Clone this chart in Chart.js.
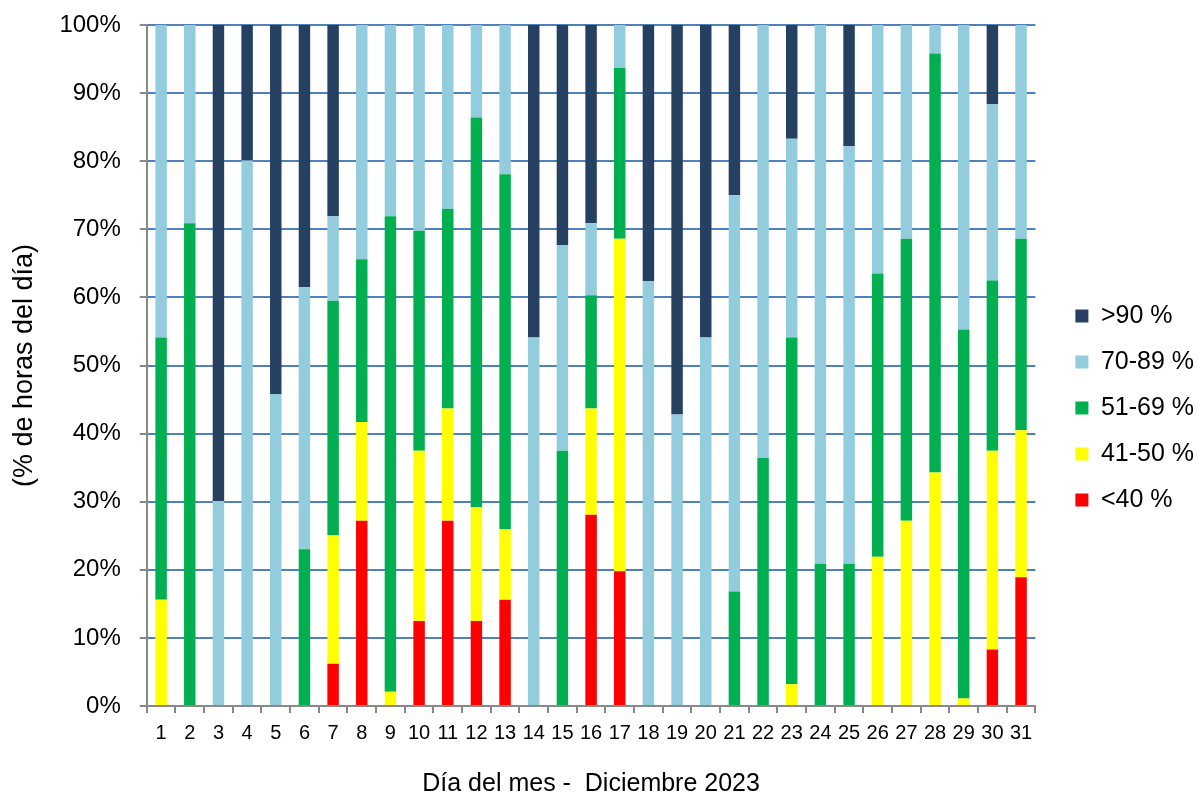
<!DOCTYPE html>
<html>
<head>
<meta charset="utf-8">
<script src="https://cdn.jsdelivr.net/npm/chart.js@4/dist/chart.umd.min.js"></script>
<style>
  html, body { margin: 0; padding: 0; background: #fff; }
  #wrap { width: 1197px; height: 797px; }
</style>
</head>
<body>
<div id="wrap"><canvas id="humChart"></canvas></div>
<script>
// dias del mes
const days = ['1','2','3','4','5','6','7','8','9','10','11','12','13','14','15','16',
  '17','18','19','20','21','22','23','24','25','26','27','28','29','30','31'];

// % de horas del dia en cada rango de humedad
const below40 = [0,0,0,0,0,0,6.2,27.2,0,12.5,27.2,12.5,15.6,0,0,28.1,
  19.8,0,0,0,0,0,0,0,0,0,0,0,0,8.3,18.9];
const r41_50 = [15.6,0,0,0,0,0,18.9,14.5,2.1,25,16.5,16.7,10.4,0,0,15.6,
  48.8,0,0,0,0,0,3.2,0,0,21.9,27.2,34.3,1.1,29.2,21.6];
const r51_69 = [38.5,70.9,0,0,0,23,34.4,23.9,69.8,32.3,29.3,57.2,52.1,0,37.5,16.6,
  25.1,0,0,0,16.8,36.4,50.9,20.9,20.9,41.6,41.4,61.5,54.2,25,28.1];
const r70_89 = [45.9,29.1,30.1,80.1,45.8,38.5,12.4,34.4,28.1,30.2,27,13.6,21.9,54.1,30.2,10.6,
  6.3,62.4,42.8,54.1,58.2,63.6,29.2,79.1,61.3,36.5,31.4,4.2,44.7,25.9,31.4];
const above90 = [0,0,69.9,19.9,54.2,38.5,28.1,0,0,0,0,0,0,45.9,32.3,29.1,
  0,37.6,57.2,45.9,25,0,16.7,0,17.8,0,0,0,0,11.6,0];

const yTicks = [0,10,20,30,40,50,60,70,80,90,100];

const FONT = 'Liberation Sans, Arial, sans-serif';

function ds(label, data, color) {
  return {
    label: label,
    data: data,
    backgroundColor: color,
    borderWidth: 0,
    categoryPercentage: 0.4,
    barPercentage: 1.0
  };
}

const chartData = {
  labels: days,
  datasets: [
    ds('<40 %', below40, '#FF0000'),
    ds('41-50 %', r41_50, '#FFFF00'),
    ds('51-69 %', r51_69, '#00B050'),
    ds('70-89 %', r70_89, '#93CDDD'),
    ds('>90 %', above90, '#254061')
  ]
};

const config = {
  type: 'bar',
  data: chartData,
  options: {
    responsive: true,
    maintainAspectRatio: false,
    animation: false,
    layout: { padding: { top: 11, right: -7, bottom: -8, left: 8 } },
    plugins: {
      tooltip: { enabled: false },
      legend: {
        position: 'right',
        reverse: true,
        labels: {
          color: '#000',
          boxWidth: 13,
          boxHeight: 13,
          padding: 21,
          font: { family: FONT, size: 25 }
        }
      }
    },
    scales: {
      x: {
        stacked: true,
        grid: {
          offset: true,
          drawOnChartArea: false,
          drawTicks: true,
          tickLength: 7,
          color: '#898989',
          lineWidth: 2
        },
        border: { color: '#898989', width: 2 },
        ticks: {
          color: '#000',
          maxRotation: 0,
          autoSkip: false,
          padding: 8,
          font: { family: FONT, size: 20 }
        },
        title: {
          display: true,
          text: 'Día del mes -  Diciembre 2023',
          color: '#000',
          padding: { top: 19, bottom: 8 },
          font: { family: FONT, size: 25, lineHeight: 1 }
        }
      },
      y: {
        stacked: true,
        min: 0,
        max: 100,
        afterBuildTicks: function(axis) {
          axis.ticks = yTicks.map(v => ({ value: v }));
        },
        grid: {
          color: '#4F81BD',
          lineWidth: 2,
          tickColor: '#898989',
          tickLength: 7
        },
        border: { color: '#898989', width: 2 },
        ticks: {
          color: '#000',
          padding: 19,
          font: { family: FONT, size: 24, lineHeight: 0.5 },
          callback: function(v) { return v + '%'; }
        },
        title: {
          display: true,
          text: '(% de horas del día)',
          color: '#000',
          padding: { top: 0, bottom: 0 },
          font: { family: FONT, size: 27 }
        }
      },
      // empty axis, only keeps a gap between the bars and the legend
      gap: {
        position: 'right',
        display: true,
        grid: { display: false },
        border: { display: false },
        ticks: { display: false },
        afterFit: function(axis) { axis.width = 19; }
      }
    }
  }
};

const humChart = new Chart(document.getElementById('humChart'), config);
</script>
</body>
</html>
